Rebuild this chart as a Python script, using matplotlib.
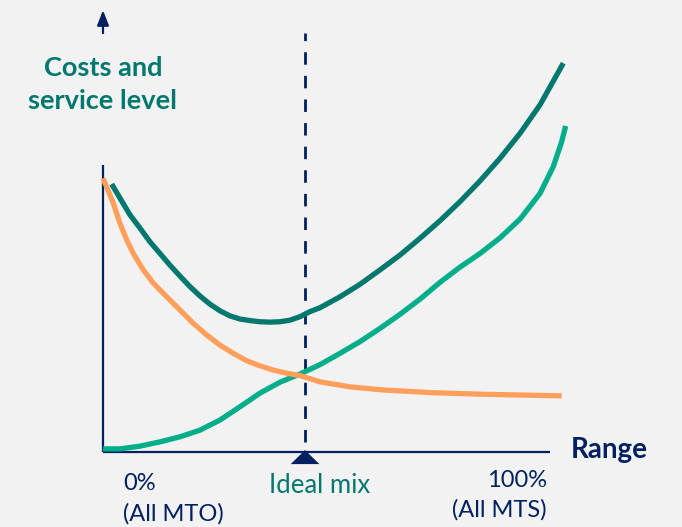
import matplotlib.pyplot as plt
from matplotlib.patches import Polygon

# ==========================================
# Curve values (x = range in %, y = relative cost / service level)
# ==========================================
total_x = [1.95, 3.80, 6.04, 8.28, 10.51, 12.75, 14.99, 17.23, 19.46, 21.70, 23.94, 26.17,
           28.41, 30.65, 32.89, 35.12, 37.36, 39.60, 41.83, 44.07, 46.31, 48.55, 53.02, 57.49,
           61.97, 66.44, 70.92, 75.39, 79.87, 84.34, 88.81, 93.29, 97.76, 102.98]
total_y = [68.7, 65.1, 60.8, 57.4, 53.9, 50.9, 47.9, 45.1, 42.4, 40.0, 37.9, 36.2,
           34.9, 34.1, 33.7, 33.4, 33.3, 33.4, 33.8, 34.7, 36.0, 37.0, 39.8, 43.0,
           46.7, 50.5, 54.8, 59.3, 64.2, 69.5, 75.3, 81.7, 89.0, 99.7]

mto_x = [0, 2.30, 3.80, 5.30, 6.78, 9.02, 11.25, 14.25, 17.23, 20.20, 23.20, 26.17,
         29.15, 32.15, 35.12, 38.10, 41.10, 44.07, 48.55, 55.26, 62.71, 73.89, 85.08, 102.62]
mto_y = [70.2, 63.8, 58.6, 54.4, 50.9, 46.7, 43.3, 39.8, 36.4, 33.0, 30.0, 27.4,
         25.3, 23.4, 22.1, 21.0, 20.2, 19.6, 18.0, 16.7, 15.9, 15.2, 14.8, 14.4]

mts_x = [0, 3.80, 8.28, 12.75, 17.23, 21.70, 26.17, 30.65, 35.12, 39.60, 44.07, 48.55, 53.02,
         57.49, 61.97, 66.44, 70.92, 75.39, 79.87, 84.34, 88.81, 93.29, 97.76, 100.74, 102.62, 103.51]
mts_y = [0.8, 0.8, 1.5, 2.6, 3.9, 5.6, 8.2, 11.6, 15.1, 17.9, 20.0, 22.4, 25.3,
         28.3, 31.7, 35.3, 39.2, 43.5, 47.4, 50.9, 54.9, 59.7, 66.3, 73.2, 79.6, 83.6]

ideal_mix = 45.2
x_labels = ["0%\n(All MTO)", "100%\n(All MTS)"]

NAVY = "#002060"
TEAL = "#00786E"
GREEN = "#00AE8A"
ORANGE = "#FF9F5B"
BG = "#F2F2F2"

plt.rcParams['font.family'] = ['Lato', 'DejaVu Sans']

fig = plt.figure(figsize=(6.82, 5.27), dpi=100, facecolor=BG)
ax = fig.add_axes([0, 0, 1, 1], facecolor=BG)
ax.set_xlim(-23.04, 129.53)
ax.set_ylim(-19.23, 115.9)
ax.axis('off')

# axes lines
ax.plot([0, 0], [0, 73.6], color=NAVY, lw=1.6, solid_capstyle='butt')
ax.plot([0, 100], [0, 0], color=NAVY, lw=1.6, solid_capstyle='butt')
ax.annotate('', xy=(0, 114.0), xytext=(0, 106.7),
            arrowprops=dict(arrowstyle='-|>,head_length=0.9,head_width=0.35',
                            color=NAVY, lw=1.6))

# ideal mix marker
ax.plot([ideal_mix, ideal_mix], [2.5, 107.5], color=NAVY, lw=2.0,
        dashes=(4.5, 4.0))
ax.add_patch(Polygon([[ideal_mix, 0.5], [ideal_mix - 3.2, -3.1], [ideal_mix + 3.2, -3.1]],
                     closed=True, color=NAVY, lw=0))

# curves
line_kw = dict(lw=3.8, solid_capstyle='butt', solid_joinstyle='round')
ax.plot(mts_x, mts_y, color=GREEN, **line_kw)
ax.plot(mto_x, mto_y, color=ORANGE, **line_kw)
ax.plot(total_x, total_y, color=TEAL, **line_kw)

# labels
ax.text(0, 94.3, "Costs and\nservice level", color=TEAL, fontsize=19.5, fontweight='bold',
        ha='center', va='center', linespacing=1.45)
ax.text(104.7, 0.6, "Range", color=NAVY, fontsize=20, fontweight='bold',
        ha='left', va='center')
ax.text(4.5, -5.3, x_labels[0], color=NAVY, fontsize=17, ha='left', va='top',
        linespacing=1.55)
ax.text(99.3, -4.6, x_labels[1], color=NAVY, fontsize=17, ha='right', va='top',
        linespacing=1.45)
ax.text(48.4, -8.5, "Ideal mix", color=TEAL, fontsize=18.5, ha='center', va='center')

fig.savefig('out.png', dpi=100, facecolor=BG)
